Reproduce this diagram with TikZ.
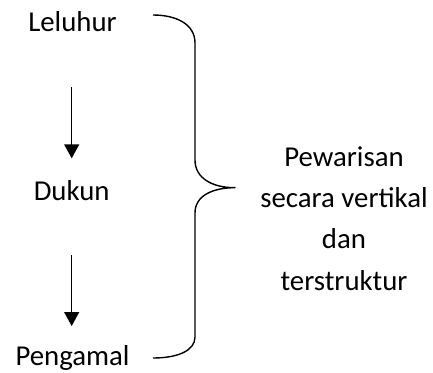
\documentclass[tikz,border=0pt]{standalone}
\usepackage{fontspec}
\setmainfont{Carlito}
\usetikzlibrary{arrows.meta}
\begin{document}
\begin{tikzpicture}[x=1pt,y=-1pt,
  lbl/.style={inner sep=0pt,outer sep=0pt,anchor=base,text height=18pt,text depth=6pt,
    font=\fontsize{28.8pt}{41.3pt}\selectfont},
  arr/.style={line width=1.4pt,-{Triangle[width=15pt,length=14pt]}},
  brace/.style={line width=1.4pt,line join=round}]
\useasboundingbox (0,0) rectangle (433,372);
\node[lbl] (lel) at (72.5,31.7) {Leluhur};
\node[lbl] (duk) at (71.7,200) {Dukun};
\node[lbl] (pen) at (72.5,365.5) {Pengamal};
\draw[arr,shorten <=49.6pt,shorten >=23.7pt] (lel.south -| 71.7,0) -- (duk.north -| 71.7,0);
\draw[arr,shorten <=49pt,shorten >=21.5pt] (duk.south -| 71.7,0) -- (pen.north -| 71.7,0);
\coordinate (bt) at (153,15);
\coordinate (tip) at (235,187.7);
\coordinate (bb) at (153,358);
\draw[brace] (bt) .. controls (176,15) and (195,24) .. (195,43)
  -- (195,160) .. controls (195,178) and (212,187.7) .. (tip)
  .. controls (212,187.7) and (195,196) .. (195,213)
  -- (195,337) .. controls (195,351) and (177,358) .. (bb);
\node[lbl,text height=,text depth=,align=center] (txt) at (344,290)
  {Pewarisan\\secara vertikal\\dan\\terstruktur};
\end{tikzpicture}
\end{document}
